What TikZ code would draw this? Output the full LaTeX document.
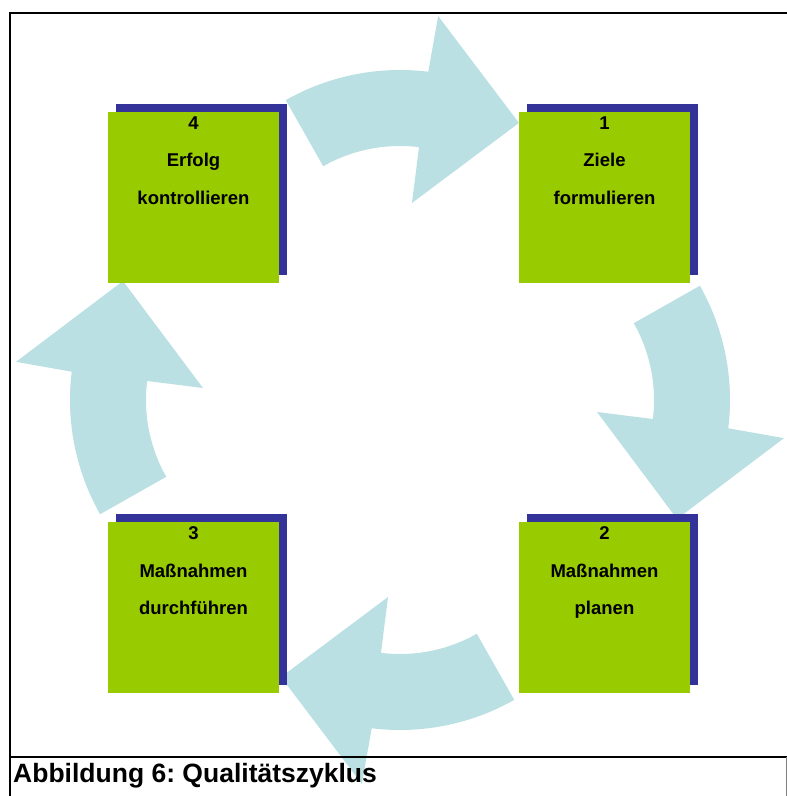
\documentclass[tikz,border=0pt]{standalone}
\usepackage{fontspec}
\setmainfont{Liberation Sans}
\frenchspacing
\usetikzlibrary{positioning,shadows}
\definecolor{boxgreen}{HTML}{99CC00}
\definecolor{shadowblue}{HTML}{333399}
\definecolor{arrowblue}{HTML}{BBE0E3}
\tikzset{
  stepbox/.style={rectangle, fill=boxgreen, minimum size=171pt, inner sep=0pt,
    drop shadow={shadow xshift=8pt, shadow yshift=8pt, fill=shadowblue, opacity=1}},
  steplabel/.style={align=center, inner sep=0pt,
    font=\fontsize{18.5}{37.5}\selectfont\bfseries},
  cyclearrow/.style={fill=arrowblue},
  frameline/.style={line width=2pt}
}
\begin{document}
\begin{tikzpicture}[x=1pt,y=1pt]
\useasboundingbox (0,0) rectangle (787,796);
% arrows
\foreach \a in {0,-90,-180,-270}
  \fill[cyclearrow, shift={(400,396)}, rotate=\a, yshift=98]
    (119.5:232) arc[start angle=119.5, end angle=83, radius=232]
    -- (82.4:288.5) -- (56.4:215) -- (83.1:99.7) -- (83:156)
    arc[start angle=83, end angle=119.5, radius=156] -- cycle;
% boxes
\node[stepbox] (z1) at (604.5,598.5) {};
\node[stepbox] (z2) at (604.5,188) {};
\node[stepbox] (z3) at (193.5,188) {};
\node[stepbox] (z4) at (193.5,598.5) {};
\node[steplabel, below=4.5pt of z1.north] (t1) {1\\Ziele\\formulieren};
\node[steplabel, below=4.5pt of z2.north] (t2) {2\\Maßnahmen\\planen};
\node[steplabel, below=4.5pt of z3.north] (t3) {3\\Maßnahmen\\durchführen};
\node[steplabel, below=4.5pt of z4.north] (t4) {4\\Erfolg\\kontrollieren};
% frame and caption
\draw[frameline] (800,782.5) -- (10.3,782.5) -- (10.3,-10);
\draw[frameline] (10.3,39) -- (800,39);
\draw[gray, line width=1pt] (786,39) -- (786,-10);
\node[anchor=base west, inner sep=0pt, font=\fontsize{26.5}{30}\selectfont\bfseries]
  (cap) at (13,13) {Abbildung 6: Qualitätszyklus};
\end{tikzpicture}
\end{document}
